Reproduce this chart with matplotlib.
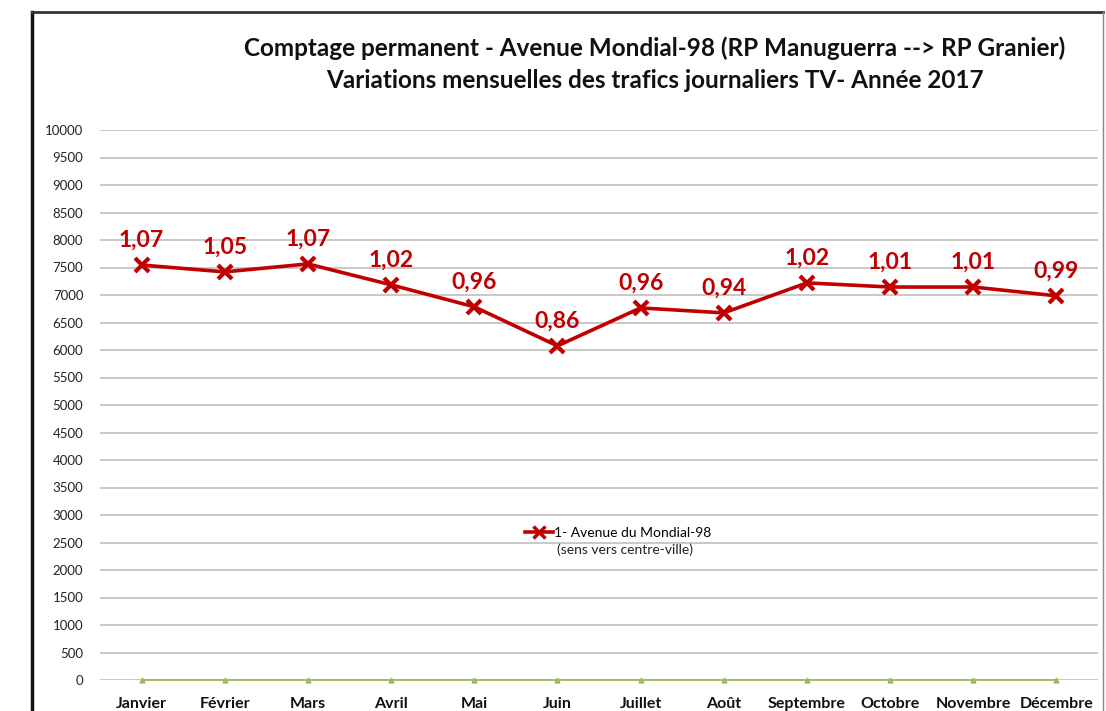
import matplotlib.pyplot as plt
from matplotlib.lines import Line2D

mois = ['Janvier', 'Février', 'Mars', 'Avril', 'Mai', 'Juin', 'Juillet',
        'Août', 'Septembre', 'Octobre', 'Novembre', 'Décembre']
trafic = [7545, 7420, 7565, 7185, 6785, 6075, 6765, 6675, 7220, 7145, 7145, 6985]
coef = ['1,07', '1,05', '1,07', '1,02', '0,96', '0,86', '0,96', '0,94',
        '1,02', '1,01', '1,01', '0,99']
zero = [0] * 12
yticks = list(range(0, 10001, 500))

plt.rcParams['font.family'] = ['Lato', 'DejaVu Sans']

fig = plt.figure(figsize=(11.06, 7.11), dpi=100)
ax = fig.add_axes([100 / 1106, 1 - 680 / 711, 998 / 1106, 550 / 711])

x = list(range(len(mois)))
ax.plot(x, zero, color='#9bbb59', lw=1.3, marker='^', ms=3.5, zorder=3,
        clip_on=False)
ax.plot(x, trafic, color='#c00000', lw=2.6, marker='x', ms=10, mew=3,
        zorder=4)

for i, v in enumerate(trafic):
    ax.annotate(coef[i], (i, v), xytext=(0, 25), textcoords='offset pixels',
                ha='center', va='center', color='#c00000', fontsize=16.5,
                fontweight='bold')

ax.set_xlim(-0.5, len(mois) - 0.5)
ax.set_ylim(0, 10000)
ax.set_yticks(yticks)
ax.set_yticklabels([str(t) for t in yticks], fontsize=9.5, color='#222222')
ax.set_xticks(x)
ax.set_xticklabels(mois, fontsize=11.5, fontweight='bold', color='#111111')
ax.tick_params(axis='both', length=0)
ax.tick_params(axis='y', pad=12)
ax.tick_params(axis='x', pad=12)
ax.grid(axis='y', color='#bfbfbf', lw=1.2)
ax.set_axisbelow(True)
for s in ax.spines.values():
    s.set_visible(False)

handle = Line2D([], [], color='#c00000', lw=2.6, marker='x', ms=8, mew=2.5)
ax.legend([handle], ['1- Avenue du Mondial-98'], frameon=False, fontsize=10,
          loc='center left', bbox_to_anchor=(518 / 1106, 1 - 533 / 711),
          bbox_transform=fig.transFigure, handlelength=2.0, handletextpad=0.1,
          borderpad=0)
fig.text(625 / 1106, 1 - 550 / 711, '(sens vers centre-ville)', fontsize=10,
         ha='center', va='center', color='#222222')

fig.text(655 / 1106, 1 - 48 / 711,
         'Comptage permanent - Avenue Mondial-98 (RP Manuguerra --> RP Granier)',
         ha='center', va='center', fontsize=17.5, fontweight='bold',
         color='#111111')
fig.text(655 / 1106, 1 - 80 / 711,
         'Variations mensuelles des trafics journaliers TV- Année 2017',
         ha='center', va='center', fontsize=17.5, fontweight='bold',
         color='#111111')

# cadre
fig.add_artist(Line2D([32 / 1106, 32 / 1106], [0, 1 - 12 / 711],
                      color='#111111', lw=2.5, transform=fig.transFigure))
fig.add_artist(Line2D([32 / 1106, 1103 / 1106], [1 - 12 / 711, 1 - 12 / 711],
                      color='#333333', lw=2, transform=fig.transFigure))
fig.add_artist(Line2D([1103 / 1106, 1103 / 1106], [0, 1 - 12 / 711],
                      color='#888888', lw=1, transform=fig.transFigure))

fig.savefig('out.png', dpi=100)
